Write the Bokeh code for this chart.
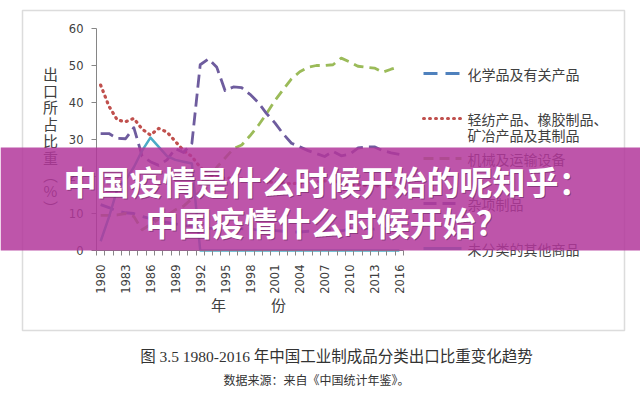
from math import pi
from bokeh.plotting import figure
from bokeh.models import Label, Arrow, BoxAnnotation, Range1d, FixedTicker
from bokeh.embed import file_html
from bokeh.resources import INLINE

# ---------------- data ----------------
years = list(range(1980, 2017))
tick_years = [1980, 1983, 1986, 1989, 1992, 1995, 1998, 2001, 2004, 2007, 2010, 2013, 2016]
y_ticks = [0, 10, 20, 30, 40, 50, 60]

chem = [12.4, 11.6, 10.6, 10.2, 10.0, 9.2, 8.6, 8.0, 7.6, 7.2, 6.8, 6.6, 6.2, 6.0, 6.0, 6.3,
        6.1, 5.9, 5.7, 5.6, 5.5, 5.4, 5.2, 5.0, 5.0, 5.2, 5.3, 5.5, 5.6, 5.3, 5.8, 6.2, 6.0,
        5.8, 6.0, 5.8, 5.9]
light = [44.7, 39.0, 35.3, 34.8, 35.7, 32.8, 31.2, 33.0, 32.0, 29.5, 27.0, 25.4, 22.5, 20.5,
         19.8, 19.5, 19.6, 19.4, 19.0, 18.8, 18.5, 18.4, 18.2, 18.0, 18.3, 18.5, 18.6, 18.8,
         19.2, 17.8, 17.6, 17.8, 17.5, 17.4, 17.6, 17.2, 17.0]
machinery = [9.5, 9.5, 9.6, 10.0, 9.2, 5.6, 7.0, 8.5, 9.5, 11.0, 12.0, 14.0, 16.0, 19.5, 22.5,
             25.0, 27.5, 28.5, 31.0, 33.8, 37.0, 40.5, 43.5, 46.4, 48.3, 49.5, 50.0, 50.0,
             50.2, 52.0, 51.0, 49.8, 49.5, 49.3, 48.2, 49.0, 49.7]
misc = [31.6, 31.6, 30.3, 30.2, 33.2, 25.5, 24.0, 23.0, 24.5, 27.5, 26.5, 29.0, 50.2, 51.8,
        49.5, 43.2, 44.2, 44.0, 42.2, 40.0, 37.0, 34.5, 31.5, 29.0, 28.0, 27.0, 26.2, 25.4,
        26.8, 25.6, 26.0, 27.7, 28.0, 28.0, 27.0, 26.4, 26.0]
unclassified = [2.5, 9.0, 16.5, 19.0, 22.5, 27.0, 30.5, 28.0, 25.5, 24.5, 24.0, 23.5,
                0.0, 0.0, 0.0, 0.0, 0.0, 0.0, 0.0, 0.0, 0.0, 0.0, 0.0, 0.0, 0.0, 0.0,
                0.0, 0.0, 0.0, 0.0, 0.0, 0.0, 0.0, 0.0, 0.0, 0.0, 0.0]

names = ["化学品及有关产品", "轻纺产品、橡胶制品、\n矿冶产品及其制品", "机械及运输设备",
         "杂项制品", "未分类的其他商品"]

# ---------------- layout ----------------
W, H = 640, 399
FL, FR, FT, FB = 96, 403, 28, 250          # data area in picture pixels
X0, X1, Y0, Y1 = 1979.5, 2016.5, 0, 60


def X(px):
    return X0 + (px - FL) * (X1 - X0) / (FR - FL)


def Y(py):
    return Y0 + (FB - py) * (Y1 - Y0) / (FB - FT)


# frame covers the whole canvas
p = figure(width=W, height=H, output_backend="svg", toolbar_location=None,
           x_range=Range1d(X(0), X(W)), y_range=Range1d(Y(H), Y(0)))
p.min_border = 0
p.min_border_left = 0
p.min_border_right = 0
p.min_border_top = 0
p.min_border_bottom = 0
p.outline_line_color = None
p.grid.visible = False
p.background_fill_color = "white"
p.border_fill_color = "white"

AX = "#868686"
TXT = "#404040"
for ax in (p.xaxis[0], p.yaxis[0]):
    ax.axis_line_color = AX
    ax.major_tick_line_color = AX
    ax.minor_tick_line_color = AX
    ax.major_label_text_font = "DejaVu Sans"
    ax.major_label_text_font_size = "11.5px"
    ax.major_label_text_color = TXT
    ax.major_tick_in = 0
    ax.minor_tick_in = 0

p.yaxis.fixed_location = X0
p.yaxis.bounds = (Y0, Y1)
p.yaxis.ticker = FixedTicker(ticks=y_ticks)
p.yaxis.major_tick_out = 5
p.yaxis.minor_tick_out = 0
p.yaxis.major_label_standoff = 8

p.xaxis.fixed_location = Y0
p.xaxis.bounds = (X0, X1)
p.xaxis.ticker = FixedTicker(ticks=tick_years, minor_ticks=[y - 0.5 for y in years] + [2016.5])
p.xaxis.major_tick_out = 0
p.xaxis.minor_tick_out = 5
p.xaxis.major_label_orientation = pi / 2
p.xaxis.major_label_standoff = 9

# ---------------- series ----------------
styles = [
    dict(y=chem, color="#4F81BD", dash="14 8", width=2.8, cap="butt"),
    dict(y=light, color="#C0504D", dash="1 5", width=3.2, cap="round"),
    dict(y=machinery, color="#9BBB59", dash="10 6", width=2.8, cap="butt"),
    dict(y=misc, color="#6E5C9E", dash="13 6", width=2.8, cap="butt"),
    dict(y=unclassified, color="#4BACC6", dash="solid", width=2.5, cap="butt"),
]
for s in styles:
    p.line(years, s["y"], line_color=s["color"], line_width=s["width"],
           line_dash=s["dash"], line_cap=s["cap"], line_join="round")

# ---------------- chart border ----------------
p.add_layout(BoxAnnotation(left=X(22), right=X(624), top=Y(10), bottom=Y(330),
                           fill_alpha=0, line_color="#8c8c8c", line_width=1.5))

# ---------------- legend ----------------
CJK = "Noto Sans CJK SC"
leg_y = [73, 126.5, 158, 203, 248]
line_y = [73, 118, 158, 203, 248]
for s, name, ly, lly in zip(styles, names, leg_y, line_y):
    p.add_layout(Arrow(end=None, x_start=X(423), y_start=Y(lly), x_end=X(461), y_end=Y(lly),
                       line_color=s["color"], line_width=3, line_dash=s["dash"],
                       line_cap=s["cap"]))
    p.add_layout(Label(x=X(467), y=Y(ly), text=name, text_align="left",
                       text_baseline="middle",
                       text_font=CJK, text_font_size="14px",
                       text_color=TXT, text_line_height=0.84))

# ---------------- axis titles ----------------
p.add_layout(Label(x=X(50), y=Y(140), text="出\n口\n所\n占\n比\n重\n︵\n%\n︶",
                   text_align="center", text_baseline="middle",
                   text_font=CJK, text_font_size="15px",
                   text_color=TXT, text_line_height=0.8))
p.add_layout(Label(x=X(248), y=Y(304), text="年　　　份", text_align="center",
                   text_baseline="middle", text_font=CJK,
                   text_font_size="15px", text_color=TXT))

# ---------------- caption ----------------
p.add_layout(Label(x=X(336), y=Y(356), text="图 3.5 1980-2016 年中国工业制成品分类出口比重变化趋势",
                   text_align="center", text_baseline="middle",
                   text_font="Liberation Serif, Noto Sans CJK SC",
                   text_font_size="15.5px", text_color="#333333"))
p.add_layout(Label(x=X(316), y=Y(379), text="数据来源：来自《中国统计年鉴》。",
                   text_align="center", text_baseline="middle",
                   text_font=CJK, text_font_size="12px", text_color="#333333"))

# ---------------- banner ----------------
p.add_layout(BoxAnnotation(left=X(0), right=X(640), top=Y(147), bottom=Y(250),
                           fill_color="#B3379B", fill_alpha=0.85, line_color=None))
for txt, lx, ly in [("中国疫情是什么时候开始的呢知乎：", 63, 180),
                    ("中国疫情什么时候开始?", 145, 221)]:
    p.add_layout(Label(x=X(lx), y=Y(ly), x_offset=1, y_offset=-1.5, text=txt,
                       text_align="left", text_baseline="middle",
                       text_font=CJK, text_font_size="33px", text_font_style="bold",
                       text_color="#4a1444", text_alpha=0.45))
    p.add_layout(Label(x=X(lx), y=Y(ly), text=txt, text_align="left", text_baseline="middle",
                       text_font=CJK, text_font_size="33px",
                       text_font_style="bold", text_color="white"))

open("out.html", "w").write(file_html(p, INLINE))
